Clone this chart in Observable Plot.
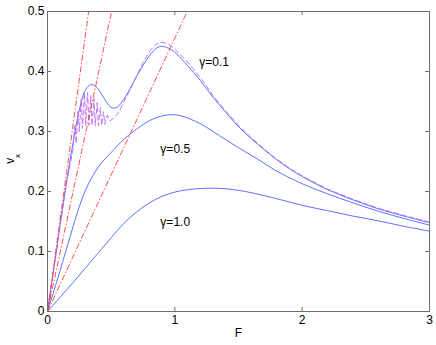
<!DOCTYPE html>
<html><head><meta charset="utf-8">
<script src="https://cdn.jsdelivr.net/npm/d3@7"></script>
<script src="https://cdn.jsdelivr.net/npm/@observablehq/plot@0.6"></script>
<style>html,body{margin:0;padding:0;background:#fff}svg{display:block}</style>
</head><body><div id="chart"></div>
<script>
// Tick values
const xTicks = [0, 1, 2, 3];
const yTicks = [0, 0.1, 0.2, 0.3, 0.4, 0.5];

// gamma = 1.0 (solid)
const g10F = [0, 0.1, 0.2, 0.3, 0.4, 0.5, 0.6, 0.7, 0.8, 0.9, 1.0, 1.1, 1.2, 1.3, 1.4, 1.5, 1.6, 1.8, 2.0, 2.2, 2.4, 2.6, 2.8, 3.0];
const g10V = [0, 0.024, 0.048, 0.073, 0.098, 0.123, 0.147, 0.166, 0.181, 0.192, 0.199, 0.203, 0.205, 0.2055, 0.2045, 0.202, 0.198, 0.188, 0.177, 0.168, 0.159, 0.151, 0.142, 0.134];

// gamma = 0.5 (solid)
const g05F = [0, 0.05, 0.1, 0.15, 0.2, 0.25, 0.3, 0.35, 0.4, 0.45, 0.5, 0.6, 0.7, 0.8, 0.9, 0.97, 1.05, 1.2, 1.35, 1.5, 1.65, 1.8, 2.0, 2.2, 2.4, 2.6, 2.8, 3.0];
const g05V = [0, 0.034, 0.069, 0.105, 0.141, 0.175, 0.203, 0.224, 0.241, 0.254, 0.265, 0.287, 0.304, 0.318, 0.326, 0.328, 0.326, 0.313, 0.293, 0.273, 0.254, 0.234, 0.213, 0.196, 0.181, 0.167, 0.155, 0.144];

// gamma = 0.1 (solid)
const g01F = [0, 0.05, 0.1, 0.15, 0.2, 0.25, 0.3, 0.34, 0.38, 0.42, 0.46, 0.5, 0.52, 0.55, 0.6, 0.65, 0.7, 0.75, 0.8, 0.85, 0.89, 0.95, 1.0, 1.1, 1.2, 1.3, 1.4, 1.5, 1.6, 1.7, 1.8, 1.9, 2.0, 2.2, 2.4, 2.6, 2.8, 3.0];
const g01V = [0, 0.072, 0.145, 0.217, 0.280, 0.336, 0.370, 0.378, 0.375, 0.364, 0.350, 0.340, 0.339, 0.341, 0.354, 0.372, 0.392, 0.410, 0.426, 0.438, 0.442, 0.439, 0.432, 0.410, 0.385, 0.357, 0.332, 0.308, 0.288, 0.270, 0.253, 0.238, 0.225, 0.203, 0.186, 0.171, 0.159, 0.148];

// gamma = 0.1 (dashed, second calculation)
const d01F = [0, 0.1, 0.15, 0.2, 0.215, 0.225, 0.24, 0.25, 0.265, 0.275, 0.29, 0.3, 0.315, 0.325, 0.34, 0.35, 0.365, 0.375, 0.39, 0.40, 0.415, 0.425, 0.44, 0.45, 0.47, 0.49, 0.52, 0.56, 0.6, 0.65, 0.7, 0.75, 0.8, 0.85, 0.9, 0.95, 1.0, 1.1, 1.2, 1.3, 1.4, 1.5, 1.6, 1.7, 1.8, 1.9, 2.0, 2.2, 2.4, 2.6, 2.8, 3.0];
const d01V = [0, 0.145, 0.215, 0.27, 0.31, 0.28, 0.335, 0.30, 0.355, 0.305, 0.365, 0.31, 0.365, 0.31, 0.36, 0.31, 0.355, 0.31, 0.348, 0.31, 0.34, 0.31, 0.333, 0.312, 0.327, 0.318, 0.322, 0.332, 0.350, 0.370, 0.393, 0.415, 0.433, 0.445, 0.449, 0.446, 0.437, 0.416, 0.390, 0.360, 0.334, 0.310, 0.290, 0.271, 0.254, 0.239, 0.226, 0.204, 0.187, 0.172, 0.160, 0.149];

// dash-dot asymptotic lines from origin, reaching v = 0.5 at these F
const asymEndF = [0.323, 0.503, 1.097];
const asymEndV = [0.5, 0.5, 0.5];

// curve labels
const labelText = ["γ=0.1", "γ=0.5", "γ=1.0"];
const labelF = [1.309, 1.003, 1.003];
const labelV = [0.4155, 0.271, 0.149];

const toRows = (F, V) => F.map((f, i) => ({F: f, v: V[i]}));
const g10 = toRows(g10F, g10V);
const g05 = toRows(g05F, g05V);
const g01 = toRows(g01F, g01V);
const d01 = toRows(d01F, d01V);
const asym = asymEndF.map((f, i) => ({F0: 0, v0: 0, F1: f, v1: asymEndV[i]}));
const labels = labelText.map((t, i) => ({t, F: labelF[i], v: labelV[i]}));

const blue = "#4a62ff";
const axisGray = "#6e6e6e";

const chart = Plot.plot({
  width: 436, height: 345,
  marginLeft: 47, marginRight: 7, marginTop: 11, marginBottom: 34,
  style: {fontFamily: "'Liberation Sans', Arial, Helvetica, sans-serif", fontSize: "12px", background: "#fff", color: "#000"},
  x: {domain: [0, 3]},
  y: {domain: [0, 0.5]},
  marks: [
    Plot.line(g10, {x: "F", y: "v", stroke: blue, strokeWidth: 0.9, curve: "catmull-rom"}),
    Plot.line(g05, {x: "F", y: "v", stroke: blue, strokeWidth: 0.9, curve: "catmull-rom"}),
    Plot.line(g01, {x: "F", y: "v", stroke: blue, strokeWidth: 0.9, curve: "catmull-rom"}),
    Plot.line(d01, {x: "F", y: "v", stroke: "#b868f0", strokeWidth: 0.9, strokeDasharray: "5,3", curve: "linear"}),
    Plot.link(asym, {x1: "F0", y1: "v0", x2: "F1", y2: "v1", stroke: "#ff3a3a", strokeWidth: 0.9, strokeDasharray: "6,2,1.5,2"}),
    Plot.text(labels, {x: "F", y: "v", text: "t", fontSize: 12, fill: "#000"}),
    // inward ticks on all four sides
    Plot.ruleX(xTicks, {x: d => d, insetTop: 296, stroke: axisGray}),
    Plot.ruleX(xTicks, {x: d => d, insetBottom: 296, stroke: axisGray}),
    Plot.ruleY(yTicks, {y: d => d, insetRight: 378, stroke: axisGray}),
    Plot.ruleY(yTicks, {y: d => d, insetLeft: 378, stroke: axisGray}),
    Plot.frame({stroke: axisGray, strokeWidth: 1}),
    Plot.axisX(xTicks, {anchor: "bottom", tickSize: 0, tickPadding: 4, label: null, fontSize: 12, tickFormat: d => String(d)}),
    Plot.axisY(yTicks, {anchor: "left", tickSize: 0, tickPadding: 3, label: null, fontSize: 12, tickFormat: d => String(d)}),
    Plot.text(["F"], {text: d => d, frameAnchor: "bottom", dy: 25, fontSize: 12}),
    Plot.text(["v"], {text: d => d, frameAnchor: "left", dx: -37.8, dy: 2.3, rotate: -90, fontSize: 12}),
    Plot.text(["x"], {text: d => d, frameAnchor: "left", dx: -30.5, dy: -3.5, rotate: -90, fontSize: 8})
  ]
});
document.getElementById("chart").appendChild(chart);
</script>
</body></html>
